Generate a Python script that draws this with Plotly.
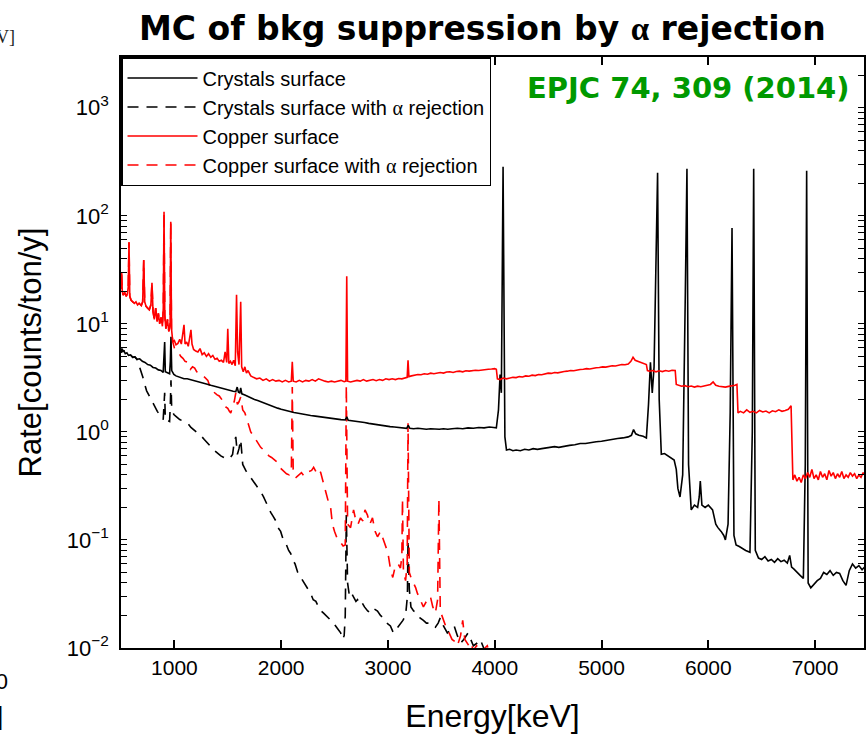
import plotly.graph_objects as go

# Simulated background spectra, (energy [keV], rate [counts/ton/y]) pairs

crystals_surface = [
    (500, 5.4), (508, 5.9), (516, 5.5), (525, 5.7), (540, 5.3), (555, 5.4), (570, 5.1), (590, 5.15),
    (610, 4.9), (630, 4.95), (650, 4.7), (675, 4.75), (700, 4.5), (725, 4.4), (750, 4.2), (775, 4.15),
    (800, 3.95), (825, 3.9), (850, 3.75), (874, 3.7), (895, 3.55), (903, 5.2), (909, 6.8), (915, 3.6),
    (940, 3.5), (955, 3.45), (962, 4.5), (968, 7.6), (975, 3.7), (995, 3.4), (1015, 3.3), (1033, 3.25),
    (1060, 3.2), (1090, 3.1), (1120, 3.1), (1150, 3.05), (1182, 3.0), (1210, 2.95), (1240, 2.88),
    (1270, 2.85), (1300, 2.78), (1341, 2.7), (1370, 2.65), (1400, 2.6), (1430, 2.55), (1460, 2.5),
    (1490, 2.45), (1520, 2.42), (1550, 2.38), (1575, 2.36), (1588, 2.6), (1600, 2.33), (1612, 2.3),
    (1621, 2.55), (1632, 2.25), (1660, 2.2), (1690, 2.12), (1715, 2.08), (1750, 2.0), (1780, 1.95),
    (1808, 1.9), (1840, 1.84), (1870, 1.79), (1902, 1.74), (1935, 1.7), (1967, 1.66), (2000, 1.62),
    (2040, 1.58), (2080, 1.54), (2120, 1.51), (2160, 1.49), (2200, 1.46), (2240, 1.44), (2276, 1.42),
    (2320, 1.4), (2360, 1.38), (2400, 1.36), (2440, 1.35), (2480, 1.33), (2520, 1.31), (2560, 1.3),
    (2600, 1.29), (2614, 1.38), (2628, 1.28), (2660, 1.27), (2700, 1.26), (2743, 1.24), (2780, 1.22),
    (2820, 1.2), (2860, 1.18), (2902, 1.16), (2940, 1.15), (2980, 1.13), (3020, 1.12), (3060, 1.11),
    (3100, 1.1), (3140, 1.09), (3175, 1.08), (3190, 1.15), (3205, 1.08), (3240, 1.07), (3280, 1.08),
    (3320, 1.07), (3360, 1.06), (3400, 1.07), (3440, 1.06), (3480, 1.06), (3520, 1.07), (3560, 1.06),
    (3600, 1.07), (3650, 1.08), (3700, 1.07), (3750, 1.09), (3800, 1.08), (3850, 1.1), (3900, 1.09),
    (3950, 1.11), (3990, 1.1), (4015, 1.09), (4035, 1.6), (4050, 3.4), (4062, 2.3), (4078, 285),
    (4095, 0.9), (4110, 0.68), (4140, 0.69), (4170, 0.67), (4200, 0.68), (4240, 0.67), (4280, 0.69),
    (4320, 0.68), (4360, 0.7), (4400, 0.69), (4440, 0.7), (4480, 0.71), (4520, 0.71), (4560, 0.73),
    (4600, 0.72), (4650, 0.74), (4700, 0.75), (4750, 0.76), (4800, 0.78), (4850, 0.78), (4900, 0.8),
    (4950, 0.81), (5000, 0.82), (5050, 0.84), (5100, 0.85), (5150, 0.87), (5200, 0.88), (5250, 0.9),
    (5280, 0.93), (5300, 1.05), (5320, 0.96), (5350, 0.93), (5390, 0.91), (5420, 0.88), (5440, 1.8),
    (5458, 4.4), (5475, 2.3), (5492, 4.0), (5505, 20), (5525, 250), (5540, 2.0), (5560, 0.62),
    (5590, 0.63), (5620, 0.6), (5650, 0.58), (5680, 0.55), (5700, 0.45), (5715, 0.3), (5735, 0.25),
    (5760, 0.4), (5785, 20), (5800, 272), (5815, 0.5), (5840, 0.19), (5870, 0.21), (5900, 0.2),
    (5915, 0.25), (5925, 0.35), (5940, 0.21), (5970, 0.2), (6000, 0.21), (6040, 0.19), (6070, 0.14),
    (6090, 0.13), (6120, 0.12), (6145, 0.11), (6160, 0.1), (6185, 0.14), (6205, 1.5), (6222, 77),
    (6240, 0.11), (6260, 0.09), (6290, 0.087), (6320, 0.083), (6350, 0.08), (6390, 0.077), (6412, 1.0),
    (6425, 272), (6440, 0.08), (6470, 0.068), (6500, 0.066), (6530, 0.07), (6560, 0.064), (6590, 0.066),
    (6620, 0.062), (6650, 0.067), (6680, 0.063), (6710, 0.065), (6740, 0.061), (6762, 0.072),
    (6780, 0.056), (6800, 0.054), (6830, 0.05), (6860, 0.047), (6890, 0.044), (6908, 0.5), (6921, 262),
    (6935, 0.04), (6960, 0.036), (6990, 0.039), (7020, 0.042), (7050, 0.044), (7080, 0.05), (7110, 0.048),
    (7140, 0.052), (7170, 0.047), (7200, 0.05), (7230, 0.049), (7260, 0.042), (7290, 0.038), (7320, 0.052),
    (7350, 0.06), (7380, 0.055), (7410, 0.058), (7440, 0.053), (7470, 0.057),
]

crystals_alpha_rejected = crystals_surface[:11] + [
    (690, 3.6), (705, 3.2), (720, 2.8), (740, 2.4), (760, 2.2), (780, 2.0), (800, 1.85), (820, 1.7),
    (840, 1.55), (860, 1.45), (880, 1.35), (895, 1.3), (903, 1.8), (909, 2.3), (915, 1.3), (935, 1.28),
    (955, 1.25), (962, 1.8), (968, 3.0), (975, 1.6), (995, 1.45), (1020, 1.38), (1050, 1.3), (1090, 1.25),
    (1126, 1.2), (1155, 1.1), (1182, 1.05), (1220, 0.98), (1250, 0.92), (1280, 0.85), (1310, 0.78),
    (1341, 0.73), (1370, 0.68), (1400, 0.64), (1435, 0.6), (1463, 0.58), (1490, 0.56), (1520, 0.57),
    (1545, 0.62), (1560, 0.8), (1575, 0.9), (1590, 0.62), (1605, 0.7), (1621, 0.85), (1640, 0.5),
    (1668, 0.44), (1690, 0.41), (1715, 0.38), (1740, 0.35), (1760, 0.33), (1785, 0.3), (1808, 0.28),
    (1835, 0.25), (1860, 0.22), (1880, 0.2), (1902, 0.18), (1925, 0.165), (1950, 0.15), (1970, 0.13),
    (1995, 0.12), (2020, 0.1), (2050, 0.09), (2070, 0.08), (2089, 0.075), (2110, 0.065), (2130, 0.06),
    (2155, 0.05), (2182, 0.045), (2205, 0.042), (2230, 0.038), (2255, 0.034), (2276, 0.032), (2300, 0.028),
    (2325, 0.027), (2350, 0.024), (2375, 0.022), (2397, 0.021), (2420, 0.02), (2440, 0.019), (2465, 0.018),
    (2491, 0.017), (2510, 0.016), (2529, 0.015), (2545, 0.014), (2557, 0.0138), (2575, 0.012),
    (2590, 0.013), (2600, 0.02), (2610, 0.17), (2622, 0.04), (2640, 0.03), (2660, 0.032), (2678, 0.03),
    (2700, 0.027), (2715, 0.028), (2740, 0.025), (2760, 0.026), (2780, 0.024), (2810, 0.022),
    (2840, 0.021), (2870, 0.023), (2902, 0.022), (2930, 0.02), (2958, 0.019), (2990, 0.017),
    (3023, 0.016), (3051, 0.0138), (3080, 0.015), (3117, 0.017), (3140, 0.018), (3165, 0.02),
    (3182, 0.03), (3188, 0.1), (3200, 0.035), (3215, 0.024), (3240, 0.022), (3276, 0.021), (3300, 0.019),
    (3332, 0.018), (3360, 0.017), (3397, 0.017), (3420, 0.016), (3444, 0.0156), (3470, 0.017),
    (3490, 0.019), (3520, 0.016), (3556, 0.0138), (3590, 0.015), (3620, 0.016), (3650, 0.013),
    (3680, 0.0111), (3710, 0.012), (3750, 0.0138), (3775, 0.012), (3800, 0.0105), (3830, 0.011),
    (3864, 0.012), (3900, 0.0098), (3930, 0.009), (3970, 0.008), (4000, 0.006),
]

copper_surface = [
    (500, 21), (506, 30), (512, 20), (520, 18.5), (535, 19.5), (548, 18), (560, 19), (568, 22),
    (575, 57), (582, 18), (595, 16.5), (610, 16), (625, 15.5), (640, 16), (655, 15), (670, 15.5),
    (690, 14.8), (703, 16), (713, 39), (722, 16), (735, 14.5), (750, 14), (765, 13.5), (780, 15),
    (790, 24), (800, 13), (812, 11), (825, 14), (838, 10.5), (850, 12.5), (862, 10), (875, 11.5),
    (888, 9.5), (896, 14), (903, 109), (910, 12), (920, 9), (935, 11), (948, 8.5), (960, 10),
    (966, 88), (973, 9), (985, 6.8), (1000, 7.0), (1015, 6.4), (1033, 6.6), (1050, 7.2), (1065, 6.5),
    (1080, 8.5), (1090, 9.8), (1100, 6.5), (1115, 6.8), (1130, 6.2), (1145, 7.5), (1155, 8.8),
    (1165, 6.5), (1180, 5.8), (1200, 5.6), (1220, 5.5), (1240, 5.9), (1260, 5.2), (1280, 5.4),
    (1300, 5.0), (1320, 5.3), (1341, 4.9), (1360, 5.1), (1380, 4.7), (1400, 4.8), (1420, 4.5),
    (1440, 4.6), (1460, 4.4), (1475, 5.5), (1490, 4.4), (1500, 9.0), (1510, 4.3), (1525, 4.5),
    (1540, 4.2), (1555, 4.6), (1570, 4.1), (1582, 18.6), (1592, 5.5), (1605, 4.2), (1614, 9),
    (1621, 16), (1630, 4.0), (1645, 3.6), (1660, 4.0), (1675, 3.5), (1690, 3.7), (1715, 3.3),
    (1740, 3.2), (1770, 3.1), (1800, 3.15), (1830, 3.0), (1860, 3.1), (1890, 2.95), (1920, 3.05),
    (1950, 2.95), (1980, 3.0), (2010, 2.9), (2040, 3.0), (2070, 2.9), (2095, 2.95), (2104, 4.45),
    (2113, 2.95), (2140, 2.9), (2170, 3.0), (2200, 2.9), (2230, 3.0), (2260, 2.95), (2290, 3.05),
    (2320, 2.95), (2350, 3.1), (2380, 3.0), (2410, 2.95), (2440, 2.9), (2470, 2.95), (2500, 2.9),
    (2530, 2.95), (2560, 3.0), (2590, 2.92), (2606, 2.95), (2614, 27.6), (2622, 2.95), (2650, 2.9),
    (2680, 2.95), (2710, 3.0), (2740, 2.95), (2770, 3.05), (2800, 2.95), (2830, 3.0), (2860, 3.05),
    (2890, 2.98), (2920, 3.05), (2950, 3.0), (2980, 3.1), (3010, 3.05), (3040, 3.1), (3070, 3.05),
    (3100, 3.12), (3130, 3.1), (3160, 3.15), (3180, 3.2), (3188, 4.6), (3196, 3.25), (3220, 3.3),
    (3250, 3.35), (3280, 3.4), (3310, 3.38), (3340, 3.45), (3370, 3.42), (3400, 3.5), (3430, 3.45),
    (3460, 3.5), (3490, 3.55), (3520, 3.5), (3550, 3.58), (3580, 3.6), (3610, 3.55), (3640, 3.62),
    (3670, 3.65), (3700, 3.6), (3730, 3.68), (3760, 3.65), (3790, 3.7), (3820, 3.72), (3850, 3.7),
    (3880, 3.75), (3910, 3.78), (3940, 3.8), (3970, 3.82), (4000, 3.85), (4015, 3.8), (4025, 3.1),
    (4050, 3.05), (4080, 3.15), (4110, 3.1), (4140, 3.15), (4170, 3.2), (4200, 3.18), (4230, 3.25),
    (4260, 3.22), (4290, 3.3), (4320, 3.28), (4350, 3.35), (4380, 3.32), (4410, 3.4), (4440, 3.38),
    (4470, 3.45), (4500, 3.5), (4530, 3.48), (4560, 3.55), (4590, 3.52), (4620, 3.6), (4650, 3.62),
    (4680, 3.65), (4710, 3.7), (4740, 3.68), (4770, 3.75), (4800, 3.78), (4830, 3.8), (4860, 3.85),
    (4890, 3.82), (4920, 3.9), (4950, 3.92), (4980, 3.95), (5010, 4.0), (5040, 3.98), (5070, 4.05),
    (5100, 4.1), (5130, 4.08), (5160, 4.15), (5190, 4.2), (5220, 4.18), (5250, 4.25), (5275, 4.5),
    (5295, 4.9), (5315, 4.6), (5340, 4.5), (5370, 4.35), (5400, 4.25), (5420, 4.2), (5430, 3.7),
    (5450, 3.65), (5480, 3.7), (5510, 3.6), (5540, 3.68), (5570, 3.62), (5600, 3.7), (5630, 3.65),
    (5660, 3.72), (5690, 3.7), (5700, 2.75), (5720, 2.7), (5750, 2.65), (5780, 2.68), (5810, 2.62),
    (5840, 2.66), (5870, 2.6), (5900, 2.65), (5930, 2.62), (5960, 2.66), (5990, 2.7), (6020, 2.75),
    (6045, 2.9), (6070, 2.7), (6100, 2.65), (6130, 2.62), (6160, 2.6), (6190, 2.64), (6220, 2.66),
    (6250, 2.7), (6268, 2.75), (6278, 1.5), (6300, 1.55), (6330, 1.5), (6360, 1.6), (6390, 1.52),
    (6420, 1.55), (6450, 1.5), (6480, 1.58), (6510, 1.53), (6540, 1.56), (6570, 1.5), (6600, 1.57),
    (6630, 1.54), (6660, 1.6), (6690, 1.55), (6720, 1.58), (6750, 1.62), (6775, 1.75), (6785, 0.8),
    (6792, 0.36), (6810, 0.4), (6830, 0.35), (6850, 0.38), (6870, 0.34), (6890, 0.4), (6910, 0.37),
    (6930, 0.42), (6950, 0.38), (6970, 0.45), (6990, 0.37), (7010, 0.4), (7030, 0.36), (7050, 0.43),
    (7070, 0.38), (7090, 0.41), (7110, 0.36), (7130, 0.44), (7150, 0.39), (7170, 0.42), (7190, 0.37),
    (7210, 0.41), (7230, 0.38), (7250, 0.43), (7270, 0.37), (7290, 0.4), (7310, 0.38), (7330, 0.42),
    (7350, 0.39), (7370, 0.41), (7390, 0.37), (7410, 0.4), (7430, 0.38), (7450, 0.42), (7470, 0.39),
    (7490, 0.4),
]

copper_alpha_rejected = copper_surface[:42] + [
    (985, 6.8), (1000, 6.0), (1020, 5.6), (1040, 5.4), (1060, 5.0), (1080, 4.8), (1100, 4.5),
    (1126, 4.4), (1150, 3.8), (1170, 4.0), (1190, 3.9), (1210, 3.6), (1235, 3.5), (1260, 3.3),
    (1285, 3.2), (1313, 3.0), (1335, 2.6), (1355, 2.4), (1375, 2.3), (1400, 2.2), (1420, 2.15),
    (1440, 2.0), (1460, 1.9), (1481, 1.7), (1500, 1.65), (1515, 1.55), (1528, 1.5), (1545, 1.7),
    (1560, 1.9), (1575, 2.3), (1590, 1.8), (1605, 1.9), (1621, 2.1), (1640, 1.6), (1660, 1.5),
    (1680, 1.3), (1700, 1.1), (1715, 1.0), (1740, 0.92), (1760, 0.85), (1780, 0.8), (1808, 0.72),
    (1836, 0.68), (1860, 0.64), (1885, 0.6), (1910, 0.58), (1935, 0.55), (1967, 0.52), (1995, 0.46),
    (2023, 0.43), (2050, 0.41), (2075, 0.4), (2095, 0.42), (2104, 2.6), (2113, 0.41), (2140, 0.38),
    (2165, 0.4), (2190, 0.42), (2215, 0.39), (2240, 0.41), (2260, 0.43), (2285, 0.44), (2304, 0.47),
    (2325, 0.43), (2350, 0.46), (2370, 0.42), (2388, 0.36), (2405, 0.3), (2420, 0.26), (2440, 0.23),
    (2463, 0.2), (2480, 0.14), (2500, 0.12), (2529, 0.1), (2555, 0.095), (2580, 0.088), (2600, 0.09),
    (2610, 2.7), (2622, 0.14), (2650, 0.13), (2678, 0.19), (2700, 0.15), (2720, 0.14), (2743, 0.16),
    (2765, 0.15), (2785, 0.19), (2808, 0.17), (2830, 0.14), (2855, 0.16), (2880, 0.12), (2902, 0.107),
    (2930, 0.12), (2958, 0.1), (2980, 0.085), (3000, 0.076), (3023, 0.054), (3045, 0.045), (3070, 0.058),
    (3095, 0.06), (3117, 0.055), (3130, 0.07), (3136, 0.24), (3145, 0.05), (3165, 0.042), (3180, 0.06),
    (3188, 1.2), (3200, 0.05), (3215, 0.045), (3240, 0.04), (3260, 0.036), (3276, 0.032), (3300, 0.028),
    (3332, 0.024), (3360, 0.027), (3397, 0.03), (3420, 0.024), (3444, 0.021), (3465, 0.028),
    (3477, 0.24), (3490, 0.022), (3519, 0.018), (3540, 0.016), (3556, 0.015), (3580, 0.013),
    (3600, 0.012), (3625, 0.0115), (3650, 0.0105), (3680, 0.013), (3700, 0.018), (3720, 0.012),
    (3750, 0.0108), (3771, 0.0115), (3800, 0.0095), (3830, 0.0105), (3864, 0.009), (3900, 0.0098),
    (3930, 0.0105), (3960, 0.0085), (3990, 0.008), (4050, 0.005),
]

x_tick_values = [1000, 2000, 3000, 4000, 5000, 6000, 7000]
decades = [0.01, 0.1, 1, 10, 100, 1000]
decade_labels = ["10<sup>\u22122</sup>", "10<sup>\u22121</sup>", "10<sup>0</sup>",
                 "10<sup>1</sup>", "10<sup>2</sup>", "10<sup>3</sup>"]

# every 1..9 step of each decade gets a tick; only the decades are labelled
y_tick_values = [m * d for d in decades for m in range(1, 10)]
y_tick_labels = [lab if m == 1 else "" for lab in decade_labels for m in range(1, 10)]

ALPHA = "<span style='font-family:Liberation Serif'>\u03b1</span>"
SANS = "Liberation Sans"
DASH = "11px,8px"

series = [
    # (points, legend name, colour, dash, legend rank)
    (crystals_alpha_rejected, f"Crystals surface with {ALPHA} rejection", "black", DASH, 2),
    (copper_alpha_rejected, f"Copper surface with {ALPHA} rejection", "#ff0000", DASH, 4),
    (crystals_surface, "Crystals surface", "black", "solid", 1),
    (copper_surface, "Copper surface", "#ff0000", "solid", 3),
]

fig = go.Figure()
for pts, name, colour, dash, rank in series:
    fig.add_trace(go.Scatter(
        x=[e for e, _ in pts],
        y=[r for _, r in pts],
        mode="lines",
        name=name,
        legendrank=rank,
        legendgroup=name,
        line=dict(color=colour, width=1.6, dash=dash),
    ))

fig.update_layout(
    width=866, height=735,
    margin=dict(l=121, r=0, t=57, b=87),
    paper_bgcolor="white",
    plot_bgcolor="white",
    font=dict(family=SANS, color="black"),
    legend=dict(
        x=0, y=1, xanchor="left", yanchor="top",
        bgcolor="white", bordercolor="black", borderwidth=1.5,
        font=dict(family=SANS, size=20, color="black"),
        itemwidth=70, tracegroupgap=0,
    ),
    xaxis=dict(
        range=[500, 7458],
        tickmode="array",
        tickvals=x_tick_values,
        ticks="inside", ticklen=8, tickwidth=1.6, tickcolor="black",
        showline=True, linecolor="black", linewidth=1.5, mirror="ticks",
        showgrid=False, zeroline=False,
        tickfont=dict(family=SANS, size=21),
        title=dict(text="Energy[keV]", font=dict(family=SANS, size=32), standoff=27),
    ),
    yaxis=dict(
        type="log",
        range=[-2, 3.47],
        tickmode="array",
        tickvals=y_tick_values,
        ticktext=y_tick_labels,
        ticks="inside", ticklen=6, tickwidth=1.3, tickcolor="black",
        showline=True, linecolor="black", linewidth=1.5, mirror="ticks",
        showgrid=False, zeroline=False,
        tickfont=dict(family=SANS, size=22),
        ticklabelstandoff=6,
        title=dict(text="Rate[counts/ton/y]", font=dict(family=SANS, size=31), standoff=16),
    ),
)

# Slide heading and citation
fig.add_annotation(
    text=f"<b>MC of bkg suppression by {ALPHA} rejection</b>",
    xref="paper", yref="paper", x=0.486, y=1.049, xanchor="center", yanchor="middle",
    showarrow=False, font=dict(family="DejaVu Sans", size=33, color="black"),
)
fig.add_annotation(
    text="<b>EPJC 74, 309 (2014)</b>",
    xref="paper", yref="paper", x=0.764, y=0.9475, xanchor="center", yanchor="middle",
    showarrow=False, font=dict(family="DejaVu Sans", size=29, color="#009900"),
)

# Pieces of neighbouring slide content at the left edge
fig.add_annotation(text="keV]", xref="paper", yref="paper", x=-0.1396, y=1.034,
                   xanchor="right", yanchor="middle", showarrow=False,
                   font=dict(family="Liberation Serif", size=18, color="#222222"))
fig.add_annotation(text="3000", xref="paper", yref="paper", x=-0.149, y=-0.056,
                   xanchor="right", yanchor="middle", showarrow=False,
                   font=dict(family=SANS, size=22, color="black"))
fig.add_annotation(text="[keV]", xref="paper", yref="paper", x=-0.156, y=-0.115,
                   xanchor="right", yanchor="middle", showarrow=False,
                   font=dict(family=SANS, size=26, color="black"))

fig.write_html("out.html")
